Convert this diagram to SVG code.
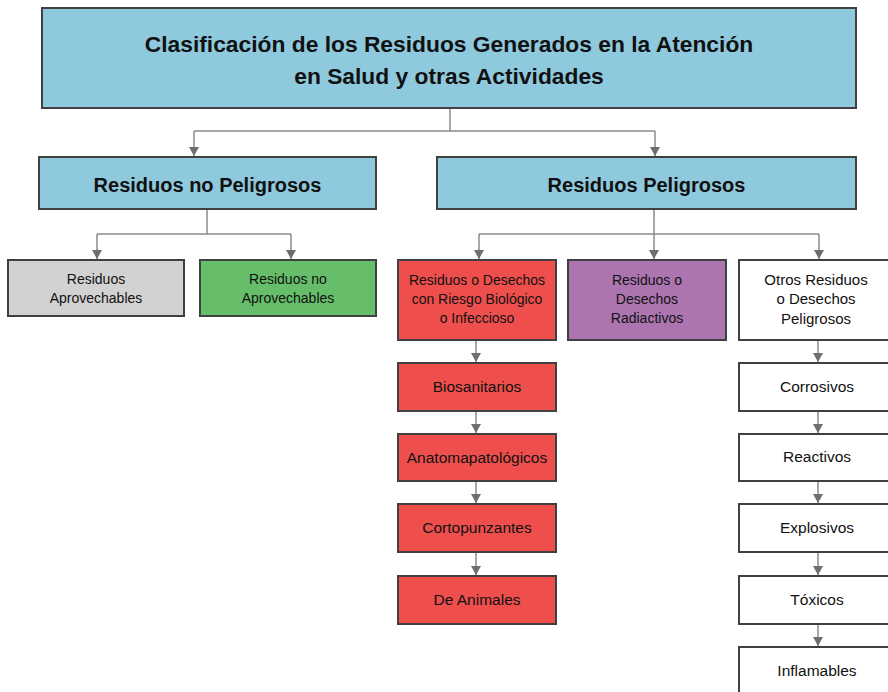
<svg xmlns="http://www.w3.org/2000/svg" width="888" height="692" viewBox="0 0 888 692">
  <defs>
    <style>
      .box { stroke: #404040; stroke-width: 2; }
      .blue { fill: #8FC9DD; }
      .gray { fill: #D3D2D2; }
      .green { fill: #66BE6A; }
      .red { fill: #EE4F4D; }
      .purple { fill: #AD75B0; }
      .white { fill: #FFFFFF; }
      text { font-family: "Liberation Sans", Arial, sans-serif; fill: #111111; text-anchor: middle; }
      .title { font-size: 22.8px; font-weight: bold; }
      .l2 { font-size: 20px; font-weight: bold; }
      .l3 { font-size: 14px; }
      .l3b { font-size: 15px; }
      .chain { font-size: 15.5px; }
      .conn { fill: none; stroke: #8a8a8a; stroke-width: 1.5; }
    </style>
    <marker id="arr" markerUnits="userSpaceOnUse" markerWidth="12" markerHeight="12" refX="9" refY="5" orient="auto">
      <path d="M0,0 L9,5 L0,10 z" fill="#6e6e6e"/>
    </marker>
  </defs>

  <g id="connectors">
    <path class="conn" d="M450,108 V131 M194,131 H655"/>
    <path class="conn" d="M194,131 V156" marker-end="url(#arr)"/>
    <path class="conn" d="M655,131 V156" marker-end="url(#arr)"/>
    <path class="conn" d="M207,209 V234 M97,234 H291"/>
    <path class="conn" d="M97,234 V259" marker-end="url(#arr)"/>
    <path class="conn" d="M291,234 V259" marker-end="url(#arr)"/>
    <path class="conn" d="M654,209 V234 M479,234 H819"/>
    <path class="conn" d="M479,234 V259" marker-end="url(#arr)"/>
    <path class="conn" d="M654,234 V259" marker-end="url(#arr)"/>
    <path class="conn" d="M819,234 V259" marker-end="url(#arr)"/>
    <path class="conn" d="M476,340 V362" marker-end="url(#arr)"/>
    <path class="conn" d="M476,411 V433" marker-end="url(#arr)"/>
    <path class="conn" d="M476,481 V503" marker-end="url(#arr)"/>
    <path class="conn" d="M476,552 V575" marker-end="url(#arr)"/>
    <path class="conn" d="M818,340 V362" marker-end="url(#arr)"/>
    <path class="conn" d="M818,411 V433" marker-end="url(#arr)"/>
    <path class="conn" d="M818,481 V503" marker-end="url(#arr)"/>
    <path class="conn" d="M818,552 V575" marker-end="url(#arr)"/>
    <path class="conn" d="M818,624 V646" marker-end="url(#arr)"/>
  </g>

  <g id="title">
    <rect class="box blue" x="42" y="8" width="814" height="100"/>
    <text class="title" x="449" y="52">Clasificación de los Residuos Generados en la Atención</text>
    <text class="title" x="449" y="84">en Salud y otras Actividades</text>
  </g>

  <g id="no-peligrosos">
    <rect class="box blue" x="39" y="157" width="337" height="52"/>
    <text class="l2" x="207.5" y="192">Residuos no Peligrosos</text>
  </g>
  <g id="peligrosos">
    <rect class="box blue" x="437" y="157" width="419" height="52"/>
    <text class="l2" x="646.5" y="192">Residuos Peligrosos</text>
  </g>

  <g id="aprovechables">
    <rect class="box gray" x="8" y="260" width="176" height="56"/>
    <text class="l3" x="96" y="284">Residuos</text>
    <text class="l3" x="96" y="303">Aprovechables</text>
  </g>
  <g id="no-aprovechables">
    <rect class="box green" x="200" y="260" width="176" height="56"/>
    <text class="l3" x="288" y="284">Residuos no</text>
    <text class="l3" x="288" y="303">Aprovechables</text>
  </g>

  <g id="biologico">
    <rect class="box red" x="398" y="260" width="158" height="80"/>
    <text class="l3" x="477" y="285">Residuos o Desechos</text>
    <text class="l3" x="477" y="304">con Riesgo Biológico</text>
    <text class="l3" x="477" y="323">o Infeccioso</text>
  </g>
  <g id="radiactivos">
    <rect class="box purple" x="568" y="260" width="158" height="80"/>
    <text class="l3" x="647" y="285">Residuos o</text>
    <text class="l3" x="647" y="304">Desechos</text>
    <text class="l3" x="647" y="323">Radiactivos</text>
  </g>
  <g id="otros">
    <rect class="box white" x="739" y="260" width="152" height="80"/>
    <text class="l3b" x="816" y="285">Otros Residuos</text>
    <text class="l3b" x="816" y="304">o Desechos</text>
    <text class="l3b" x="816" y="324">Peligrosos</text>
  </g>

  <g id="biosanitarios">
    <rect class="box red" x="398" y="363" width="158" height="48"/>
    <text class="chain" x="477" y="392">Biosanitarios</text>
  </g>
  <g id="anatomapatologicos">
    <rect class="box red" x="398" y="434" width="158" height="47"/>
    <text class="chain" x="477" y="463">Anatomapatológicos</text>
  </g>
  <g id="cortopunzantes">
    <rect class="box red" x="398" y="504" width="158" height="48"/>
    <text class="chain" x="477" y="533">Cortopunzantes</text>
  </g>
  <g id="animales">
    <rect class="box red" x="398" y="576" width="158" height="48"/>
    <text class="chain" x="477" y="605">De Animales</text>
  </g>

  <g id="corrosivos">
    <rect class="box white" x="739" y="363" width="152" height="48"/>
    <text class="chain" x="817" y="392">Corrosivos</text>
  </g>
  <g id="reactivos">
    <rect class="box white" x="739" y="434" width="152" height="47"/>
    <text class="chain" x="817" y="462">Reactivos</text>
  </g>
  <g id="explosivos">
    <rect class="box white" x="739" y="504" width="152" height="48"/>
    <text class="chain" x="817" y="533">Explosivos</text>
  </g>
  <g id="toxicos">
    <rect class="box white" x="739" y="576" width="152" height="48"/>
    <text class="chain" x="817" y="605">Tóxicos</text>
  </g>
  <g id="inflamables">
    <rect class="box white" x="739" y="647" width="152" height="60"/>
    <text class="chain" x="817" y="676">Inflamables</text>
  </g>
</svg>
